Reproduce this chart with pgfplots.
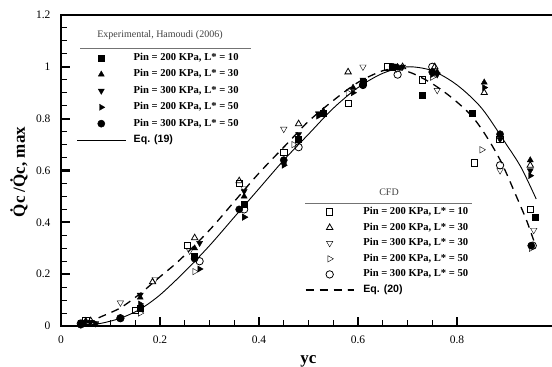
\documentclass[border=0pt]{standalone}
\usepackage{pgfplots}
\pgfplotsset{compat=1.18}
\usepackage{fontspec}
\setmainfont{Liberation Serif}
\newfontfamily\arialfont{Liberation Sans}
\definecolor{rulegrey}{gray}{0.45}
\begin{document}
\begin{tikzpicture}
\path[use as bounding box] (0pt,0pt) rectangle (552pt,367pt);
\pgfplotsset{
  base/.style={
    at={(61pt,41pt)}, anchor=south west,
    scale only axis, width=495pt, height=311pt,
    xmin=0, xmax=1, ymin=0, ymax=1.2,
    clip=false,
    legend cell align=left,
    legend image code/.code={\draw[mark repeat=2,mark phase=2,##1] plot coordinates {(0pt,0pt) (24pt,0pt) (48pt,0pt)};},
  },
  emark/.style={only marks, mark options={solid, fill=black, draw=black}},
  cmark/.style={only marks, mark options={solid, fill=white, draw=black, line width=0.8pt}},
}
\begin{axis}[base,
  xtick={0,0.2,0.4,0.6,0.8}, ytick={0,0.2,0.4,0.6,0.8,1,1.2},
  minor x tick num=3, minor y tick num=3,
  xtick pos=bottom, ytick pos=left, tick align=inside,
  major tick length=9pt, minor tick length=6pt,
  major tick style={line width=2.2pt, black},
  minor tick style={line width=1pt, black},
  axis line style={line width=1.4pt},
  /pgf/number format/assume math mode=true,
  xticklabel style={font=\fontsize{11.5}{12}\selectfont, yshift=-6pt},
  yticklabel style={font=\fontsize{11.5}{12}\selectfont, xshift=-7pt},
  legend style={at={(0.032,0.876)}, anchor=north west, draw=none, fill=none,
    inner sep=0pt, outer sep=0pt, row sep=7.4pt,
    nodes={inner sep=0pt, text height=7pt, text depth=2pt, font=\fontsize{10.6}{12}\selectfont\bfseries},
    /tikz/every odd column/.append style={column sep=8pt}},
]
\addplot[emark, mark=square*, mark size=3pt] coordinates {
(0.04,0.01)(0.16,0.07)(0.27,0.27)(0.37,0.47)(0.48,0.72)(0.53,0.82)(0.61,0.94)(0.67,1.0)(0.73,0.89)(0.83,0.82)(0.957,0.42)};
\addlegendentry{Pin = 200 KPa, L* = 10}
\addplot[emark, mark=triangle*, mark size=3.5pt] coordinates {
(0.05,0.02)(0.16,0.11)(0.27,0.3)(0.37,0.5)(0.45,0.63)(0.53,0.83)(0.59,0.92)(0.68,1.0)(0.76,0.98)(0.855,0.94)(0.948,0.64)};
\addlegendentry{Pin = 200 KPa, L* = 30}
\addplot[emark, mark=triangle*, mark size=3.5pt, mark options={rotate=180}] coordinates {
(0.06,0.015)(0.16,0.12)(0.28,0.32)(0.37,0.52)(0.48,0.74)(0.52,0.82)(0.61,0.95)(0.69,1.0)(0.76,0.97)(0.887,0.72)(0.948,0.6)};
\addlegendentry{Pin = 300 KPa, L* = 30}
\addplot[emark, mark=triangle*, mark size=3.5pt, mark options={rotate=-90}] coordinates {
(0.07,0.01)(0.16,0.085)(0.28,0.22)(0.37,0.42)(0.45,0.62)(0.52,0.81)(0.59,0.9)(0.68,1.0)(0.75,0.97)(0.855,0.92)(0.948,0.58)};
\addlegendentry{Pin = 200 KPa, L* = 50}
\addplot[emark, mark=*, mark size=3.6pt] coordinates {
(0.04,0.005)(0.12,0.03)(0.27,0.26)(0.36,0.45)(0.45,0.64)(0.53,0.82)(0.61,0.93)(0.67,1.0)(0.75,0.98)(0.887,0.74)(0.95,0.31)};
\addlegendentry{Pin = 300 KPa, L* = 50}
\addplot[black, line width=0.9pt, smooth, no marks] coordinates {
(0.04,0.0)(0.08,0.01)(0.12,0.03)(0.16,0.065)(0.2,0.12)(0.25,0.21)(0.3,0.31)(0.35,0.42)(0.4,0.53)(0.45,0.64)(0.5,0.74)(0.55,0.84)(0.6,0.92)(0.65,0.975)(0.7,1.0)(0.75,0.985)(0.8,0.93)(0.85,0.84)(0.9,0.70)(0.93,0.61)(0.96,0.49)};
\addlegendentry{\arialfont\bfseries Eq. (19)}
\end{axis}
\begin{axis}[base, hide axis,
  legend style={at={(0.493,0.381)}, anchor=north west, draw=none, fill=none,
    inner sep=0pt, outer sep=0pt, row sep=6.6pt,
    nodes={inner sep=0pt, text height=7pt, text depth=2pt, font=\fontsize{10.6}{12}\selectfont\bfseries},
    /tikz/every odd column/.append style={column sep=9pt}},
]
\addplot[cmark, mark=square, mark size=3.2pt] coordinates {
(0.05,0.02)(0.15,0.06)(0.255,0.31)(0.36,0.55)(0.45,0.67)(0.58,0.86)(0.66,1.0)(0.73,0.95)(0.835,0.63)(0.887,0.72)(0.948,0.45)};
\addlegendentry{Pin = 200 KPa, L* = 10}
\addplot[cmark, mark=triangle, mark size=3.7pt] coordinates {
(0.06,0.02)(0.185,0.17)(0.27,0.34)(0.36,0.56)(0.48,0.78)(0.58,0.98)(0.69,1.0)(0.755,1.0)(0.855,0.9)(0.948,0.62)};
\addlegendentry{Pin = 200 KPa, L* = 30}
\addplot[cmark, mark=triangle, mark size=3.7pt, mark options={rotate=180}] coordinates {
(0.07,0.01)(0.12,0.09)(0.19,0.18)(0.26,0.29)(0.37,0.53)(0.45,0.76)(0.61,1.0)(0.76,0.91)(0.887,0.6)(0.955,0.37)};
\addlegendentry{Pin = 300 KPa, L* = 30}
\addplot[cmark, mark=triangle, mark size=3.7pt, mark options={rotate=-90}] coordinates {
(0.05,0.01)(0.16,0.05)(0.27,0.21)(0.37,0.42)(0.47,0.7)(0.58,0.9)(0.68,0.99)(0.75,0.96)(0.85,0.68)(0.95,0.3)};
\addlegendentry{Pin = 200 KPa, L* = 50}
\addplot[cmark, mark=o, mark size=3.7pt] coordinates {
(0.04,0.01)(0.12,0.03)(0.28,0.25)(0.37,0.45)(0.48,0.69)(0.61,0.93)(0.68,0.97)(0.75,1.0)(0.887,0.62)(0.953,0.31)};
\addlegendentry{Pin = 300 KPa, L* = 50}
\addplot[black, line width=1.3pt, dash pattern=on 8pt off 6pt, smooth, no marks] coordinates {
(0.05,0.01)(0.08,0.035)(0.12,0.07)(0.16,0.125)(0.2,0.19)(0.24,0.255)(0.3,0.37)(0.35,0.48)(0.4,0.59)(0.46,0.71)(0.5,0.79)(0.55,0.87)(0.6,0.94)(0.65,0.985)(0.68,0.99)(0.71,0.975)(0.75,0.935)(0.79,0.88)(0.83,0.81)(0.86,0.73)(0.89,0.63)(0.92,0.5)(0.94,0.41)(0.955,0.33)};
\addlegendentry{\arialfont\bfseries Eq. (20)}
\end{axis}
% legend titles and rules
\node[font=\fontsize{10}{12}\selectfont, text=black!75] at (160pt,332pt) {Experimental, Hamoudi (2006)};
\draw[rulegrey, line width=0.9pt] (80pt,319pt) -- (251pt,319pt);
\node[font=\fontsize{10}{12}\selectfont, text=black!75] at (389pt,175pt) {CFD};
\draw[rulegrey, line width=0.9pt] (305pt,164pt) -- (472pt,164pt);
% axis labels
\node[font=\fontsize{17}{20}\selectfont\bfseries, anchor=base] at (308.5pt,3pt) {yc};
\node[font=\fontsize{17}{20}\selectfont\bfseries, rotate=90] at (19pt,195pt) {Q̇c /Q̇c, max};
\end{tikzpicture}
\end{document}
